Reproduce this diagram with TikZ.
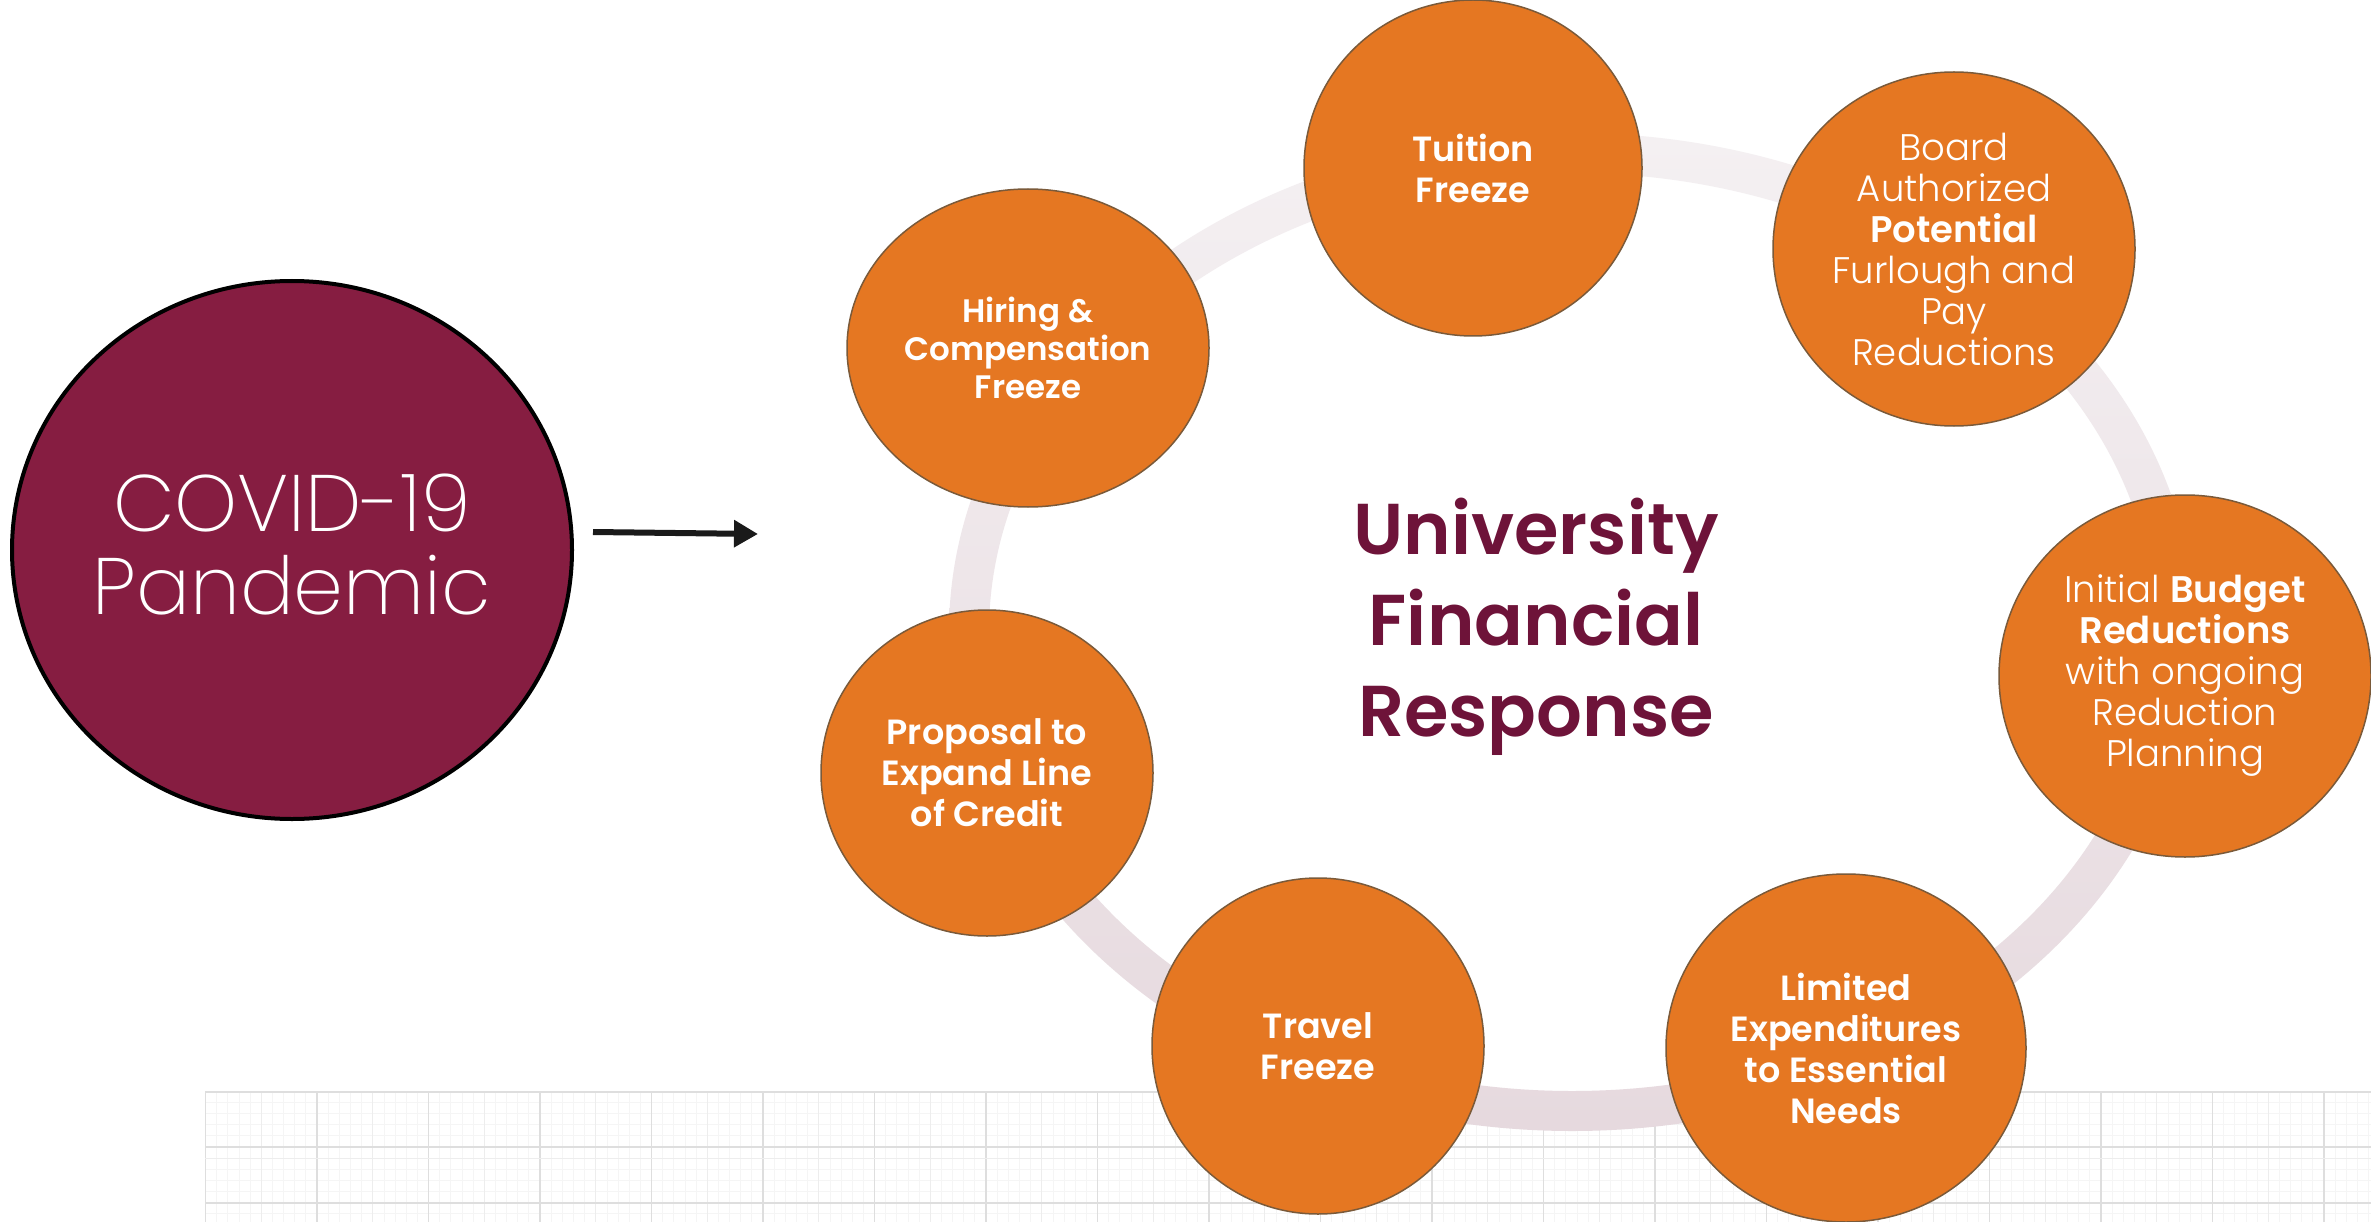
\documentclass[tikz,border=0pt]{standalone}
\usepackage{fontspec}
\usetikzlibrary{shapes.geometric,arrows.meta}
\IfFontExistsTF{Poppins Light}{\newfontfamily\thinf{Poppins Light}}{\newfontfamily\thinf{Poppins}}
\IfFontExistsTF{Poppins ExtraLight}{\newfontfamily\xthinf{Poppins ExtraLight}}{\newfontfamily\xthinf{Poppins Light}}
\IfFontExistsTF{Poppins SemiBold}{\newfontfamily\boldf{Poppins SemiBold}}{\newfontfamily\boldf{Poppins}[FakeBold=1.5]}
\definecolor{orangeF}{HTML}{E57722}
\definecolor{orangeD}{HTML}{7A5A3A}
\definecolor{maroonF}{HTML}{861D41}
\definecolor{titleC}{HTML}{6E1339}
\definecolor{ringTop}{HTML}{F4F0F2}
\definecolor{ringBot}{HTML}{E6D9DE}
\definecolor{arrowC}{HTML}{1A1A1A}
\begin{document}
\begin{tikzpicture}[x=1pt,y=-1pt,
  orb/.style={ellipse, draw=orangeD, line width=1.5pt, fill=orangeF, inner sep=0pt},
  btxt/.style={align=center, text=white, font={\boldf\fontsize{35}{41}\selectfont}},
  ttxt/.style={align=center, text=white, font={\thinf\fontsize{37}{41}\selectfont}},
  gridminor/.style={draw=black!4, line width=0.8pt},
  gridmid/.style={draw=black!7, line width=1pt},
  gridmajor/.style={draw=black!13, line width=1.2pt}]
\useasboundingbox (0,0) rectangle (2371,1222);
\fill[white] (0,0) rectangle (2371,1222);
% background grid
\begin{scope}
\clip (205,1091) rectangle (2371,1222);
\foreach \k in {0,...,196} \draw[gridminor] (205.5+\k*11.15,1091) -- (205.5+\k*11.15,1222);
\foreach \k in {0,...,12} \draw[gridminor] (205,1091+\k*11.15) -- (2371,1091+\k*11.15);
\foreach \k in {0,...,39} \draw[gridmid] (205.5+\k*55.75,1091) -- (205.5+\k*55.75,1222);
\foreach \k in {0,...,19} \draw[gridmajor] (205.5+\k*111.5,1091) -- (205.5+\k*111.5,1222);
\draw[gridmid] (205,1158) -- (2371,1158);
\foreach \yy in {1092,1147,1203} \draw[gridmajor] (205,\yy) -- (2371,\yy);
\end{scope}
% ring
\path[even odd rule, top color=ringTop, bottom color=ringBot]
  (1572,632) ellipse [x radius=623, y radius=499]
  (1572,632) ellipse [x radius=583, y radius=459];
% covid
\node[ellipse, draw=black, line width=4pt, fill=maroonF, minimum width=560pt, minimum height=538pt, inner sep=0pt] (covid) at (292,550) {};
\node[align=center, text=white, font={\xthinf\fontsize{80}{83}\selectfont}] (covidtxt) at (292,545) {COVID-19\\Pandemic};
% arrow
\coordinate (a1) at (593,532);
\coordinate (a2) at (758,534);
\draw[line width=6pt, arrowC, -{Triangle[length=24pt,width=26pt]}] (a1) -- (a2);
% title
\node[align=center, text=titleC, font={\boldf\fontsize{72}{91}\selectfont}] (title) at (1536,627) {University\\Financial\\Response};
% orbs
\node[orb, minimum width=338pt, minimum height=336pt] (tuition) at (1473,168) {};
\node[orb, minimum width=362pt, minimum height=354pt] (board) at (1954,249) {};
\node[orb, minimum width=372pt, minimum height=362pt] (budget) at (2185,676) {};
\node[orb, minimum width=360pt, minimum height=348pt] (limited) at (1846,1048) {};
\node[orb, minimum width=332pt, minimum height=336pt] (travel) at (1318,1046) {};
\node[orb, minimum width=332pt, minimum height=326pt] (proposal) at (987,773) {};
\node[orb, minimum width=362pt, minimum height=318pt] (hiring) at (1028,348) {};
% texts
\node[btxt] (tuitiont) at (tuition) {Tuition\\Freeze};
\node[ttxt] (boardt) at (board) {Board\\Authorized\\{\boldf Potential}\\Furlough and\\Pay\\Reductions};
\node[ttxt] (budgett) at (budget) {Initial {\boldf Budget}\\{\boldf Reductions}\\with ongoing\\Reduction\\Planning};
\node[btxt] (limitedt) at (limited) {Limited\\Expenditures\\to Essential\\Needs};
\node[btxt] (travelt) at (travel) {Travel\\Freeze};
\node[btxt] (proposalt) at (proposal) {Proposal to\\Expand Line\\of Credit};
\node[btxt, font={\boldf\fontsize{32.5}{38}\selectfont}] (hiringt) at (hiring) {Hiring \&\\Compensation\\Freeze};
\end{tikzpicture}
\end{document}
